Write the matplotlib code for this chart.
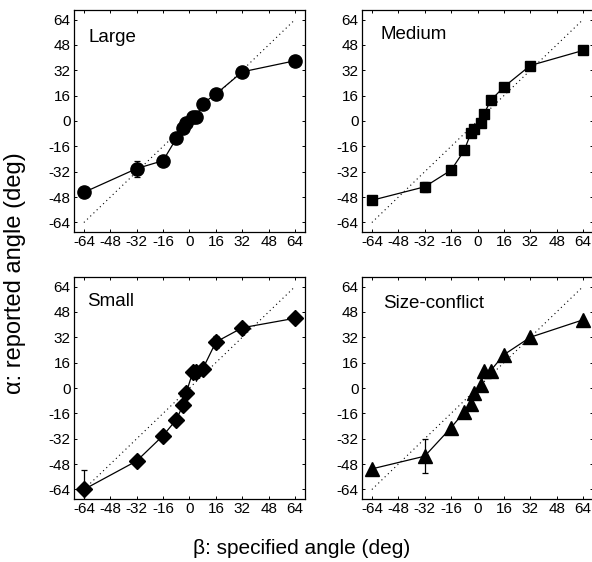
#!/usr/bin/env python3
"""Reported vs specified angle, four stimulus-size conditions."""

import matplotlib.pyplot as plt

plt.rcParams["font.family"] = ["Liberation Sans", "DejaVu Sans"]
plt.rcParams["axes.unicode_minus"] = False

# specified angle (deg), shared by all panels
BETA = [-64, -32, -16, -8, -4, -2, 2, 4, 8, 16, 32, 64]

LARGE = [-45, -30, -25, -11, -4.6, -1.5, 2.7, 2.7, 11, 17, 31, 38]
LARGE_ERR = [0, 5, 0, 0, 0, 0, 0, 0, 0, 0, 0, 0]

MEDIUM = [-50, -41.5, -31, -18.5, -7.5, -5, -1.5, 4.5, 13, 21.5, 35, 44.5]
MEDIUM_ERR = [0, 3, 0, 0, 0, 0, 0, 0, 0, 0, 0, 0]

SMALL = [-64, -46, -30, -20, -11, -3, 10, 10, 12, 29, 38, 44]
SMALL_ERR = [12, 2, 0, 0, 0, 0, 0, 0, 0, 4, 0, 0]

CONFLICT = [-51, -43, -25, -15, -10, -3, 2, 11, 11, 21, 32, 43]
CONFLICT_ERR = [0, 10.6, 0, 0, 0, 0, 0, 0, 0, 0, 0, 0]

TICKS = [-64, -48, -32, -16, 0, 16, 32, 48, 64]

W, H = 592, 562
# (left px, top px, marker, markersize, label, label x, label y, values, errors)
PANELS = [
    (74, 10, "o", 9.5, "Large", -61, 50, LARGE, LARGE_ERR),
    (362, 10, "s", 7.5, "Medium", -58.5, 52, MEDIUM, MEDIUM_ERR),
    (74, 277, "D", 8.0, "Small", -62, 51.5, SMALL, SMALL_ERR),
    (362, 277, "^", 10.0, "Size-conflict", -57, 50.5, CONFLICT, CONFLICT_ERR),
]


def main() -> None:
    fig = plt.figure(figsize=(W / 100, H / 100), dpi=100)
    aw, ah = 231, 222
    for left, top, marker, ms, label, lx, ly, vals, errs in PANELS:
        ax = fig.add_axes([left / W, 1 - (top + ah) / H, aw / W, ah / H])
        ax.plot([-64, 64], [-64, 64], color="black", lw=0.8, ls=(0, (1, 3)))
        ax.errorbar(
            BETA,
            vals,
            yerr=errs,
            color="black",
            marker=marker,
            markersize=ms,
            lw=0.9,
            elinewidth=0.9,
            capsize=2.5,
            capthick=0.9,
        )
        ax.text(lx, ly, label, fontsize=13.5, va="baseline")
        ax.set_xlim(-70, 70)
        ax.set_ylim(-70, 70)
        ax.set_xticks(TICKS)
        ax.set_yticks(TICKS)
        ax.tick_params(direction="in", length=2, width=0.7, labelsize=11,
                       top=True, right=True, pad=2.5)
        for sp in ax.spines.values():
            sp.set_linewidth(0.9)

    fig.text(302 / W, 1 - 548 / H, "β: specified angle (deg)", fontsize=15,
             ha="center", va="center")
    fig.text(15 / W, 1 - 273 / H, "α: reported angle (deg)", fontsize=17,
             ha="center", va="center", rotation=90)
    fig.savefig("out.png", dpi=100)


if __name__ == "__main__":
    main()
